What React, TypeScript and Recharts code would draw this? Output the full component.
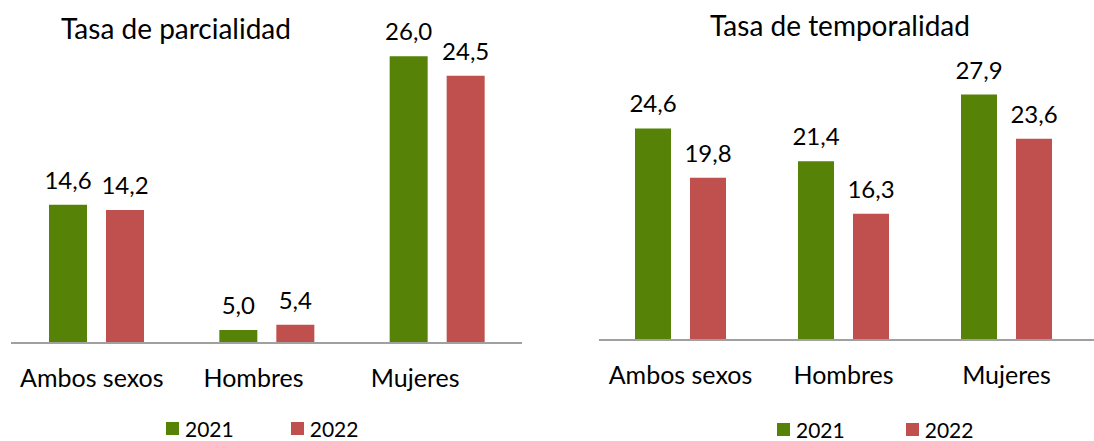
import { BarChart, Bar, XAxis, YAxis, LabelList } from 'recharts';

const categories = ['Ambos sexos', 'Hombres', 'Mujeres'];
const years = ['2021', '2022'];
const parcialidad2021 = [14.6, 5.0, 26.0];
const parcialidad2022 = [14.2, 5.4, 24.5];
const temporalidad2021 = [24.6, 21.4, 27.9];
const temporalidad2022 = [19.8, 16.3, 23.6];

const GREEN = '#558207';
const RED = '#C0504D';
const FONT = 'Lato, "Open Sans", sans-serif';

const fmt = (v: any) => Number(v).toFixed(1).replace('.', ',');

function buildRows(a: number[], b: number[]) {
  return categories.map((name, i) => ({ name, y2021: a[i], y2022: b[i] }));
}

interface RateChartProps {
  title: string;
  rows: { name: string; y2021: number; y2022: number }[];
  left: number;
  width: number;
  margin: { top: number; right: number; bottom: number; left: number };
  barSize: number;
  barGap: number;
  barsPadRight: number;
  labelPadRight: number;
  titleCenter: number;
  titleTop: number;
  legendLeft: number;
  legendTop: number;
  legendSpacing: number;
}

function RateChart(p: RateChartProps) {
  return (
    <div style={{ position: 'absolute', left: p.left, top: 0, width: p.width, height: 441 }}>
      <BarChart
        width={p.width}
        height={441}
        data={p.rows}
        margin={p.margin}
        barSize={p.barSize}
        barGap={p.barGap}
      >
        <XAxis xAxisId="bars" dataKey="name" hide height={0} padding={{ left: 0, right: p.barsPadRight }} />
        <XAxis
          xAxisId="labels"
          dataKey="name"
          height={60}
          padding={{ left: 0, right: p.labelPadRight }}
          axisLine={{ stroke: '#A0A0A0', strokeWidth: 2 }}
          tickLine={false}
          tickMargin={20}
          tick={{ fill: '#000', fontSize: 25, fontFamily: FONT }}
          interval={0}
        />
        <YAxis hide domain={[4, 30]} />
        <Bar xAxisId="bars" dataKey="y2021" name={years[0]} fill={GREEN} isAnimationActive={false}>
          <LabelList dataKey="y2021" position="top" offset={16} formatter={fmt}
            style={{ fill: '#000', fontSize: 24, fontFamily: FONT }} />
        </Bar>
        <Bar xAxisId="bars" dataKey="y2022" name={years[1]} fill={RED} isAnimationActive={false}>
          <LabelList dataKey="y2022" position="top" offset={16} formatter={fmt}
            style={{ fill: '#000', fontSize: 24, fontFamily: FONT }} />
        </Bar>
      </BarChart>
      <div
        style={{
          position: 'absolute',
          left: p.titleCenter - 200,
          width: 400,
          top: p.titleTop,
          textAlign: 'center',
          fontFamily: FONT,
          fontSize: 28,
          lineHeight: 1,
          color: '#000',
        }}
      >
        {p.title}
      </div>
      <div
        style={{
          position: 'absolute',
          left: p.legendLeft,
          top: p.legendTop,
          display: 'flex',
          alignItems: 'center',
          gap: p.legendSpacing,
          fontFamily: FONT,
          fontSize: 21,
          lineHeight: 1,
          color: '#000',
        }}
      >
        {years.map((y, i) => (
          <div key={y} style={{ display: 'flex', alignItems: 'center', gap: 6 }}>
            <span style={{ width: 13, height: 13, background: i === 0 ? GREEN : RED, display: 'inline-block' }} />
            <span>{y}</span>
          </div>
        ))}
      </div>
    </div>
  );
}

export default function App() {
  return (
    <div style={{ position: 'absolute', left: 0, top: 0, width: 1094, height: 441, background: '#fff' }}>
      <RateChart
        title="Tasa de parcialidad"
        rows={buildRows(parcialidad2021, parcialidad2022)}
        left={0}
        width={548}
        margin={{ top: 4, right: 26, bottom: 38, left: 11 }}
        barSize={38}
        barGap={19}
        barsPadRight={0}
        labelPadRight={26}
        titleCenter={176}
        titleTop={14}
        legendLeft={166}
        legendTop={418}
        legendSpacing={57}
      />
      <RateChart
        title="Tasa de temporalidad"
        rows={buildRows(temporalidad2021, temporalidad2022)}
        left={548}
        width={546}
        margin={{ top: 73, right: 0, bottom: 41, left: 51 }}
        barSize={36}
        barGap={19}
        barsPadRight={6}
        labelPadRight={6}
        titleCenter={292}
        titleTop={11}
        legendLeft={229}
        legendTop={419}
        legendSpacing={61}
      />
    </div>
  );
}
